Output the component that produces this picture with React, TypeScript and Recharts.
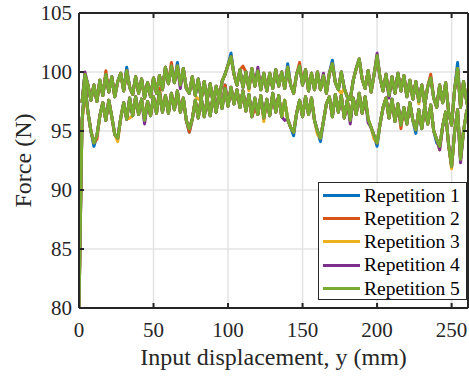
import { LineChart, Line, XAxis, YAxis, CartesianGrid } from 'recharts';

const seriesNames = ['Repetition 1', 'Repetition 2', 'Repetition 3', 'Repetition 4', 'Repetition 5'];
const seriesColors = ['#0072BD', '#D95319', '#EDB120', '#7E2F8E', '#77AC30'];

const xTicks = [0, 50, 100, 150, 200, 250];
const yTicks = [80, 85, 90, 95, 100, 105];

// displacement samples (mm): every 2 mm, plus the end of stroke
const outX = [...Array.from({ length: 131 }, (_, i) => i * 2), 261];
const backX = [...Array.from({ length: 130 }, (_, i) => 2 + i * 2), 261];

// outward stroke, force (N) at outX
const outForce = [
  80, 95.8, 98.9, 96.6, 95.0, 94.0, 94.6, 96.3, 97.4, 95.9,
  97.6, 96.2, 94.7, 94.4, 96.1, 97.4, 96.0, 97.8, 96.3, 97.9,
  96.4, 97.7, 95.9, 97.5, 96.3, 97.9, 96.5, 98.3, 96.6, 98.0,
  96.5, 98.2, 96.8, 98.4, 96.6, 97.8, 95.9, 95.2, 96.0, 97.6,
  96.1, 97.8, 96.2, 97.7, 96.3, 98.0, 96.6, 98.3, 96.9, 98.6,
  97.1, 98.7, 97.3, 98.5, 97.0, 98.4, 96.7, 98.1, 96.2, 97.8,
  96.4, 98.0, 96.1, 97.7, 96.3, 98.2, 96.6, 98.0, 96.2, 97.6,
  96.0, 95.3, 94.9, 96.5, 97.6, 96.2, 97.9, 96.4, 97.8, 95.9,
  95.0, 94.4, 95.8, 97.3, 97.9, 96.2, 98.1, 96.6, 98.0, 96.1,
  97.6, 95.9, 97.8, 96.4, 98.2, 96.5, 97.9, 96.0, 95.3, 94.6,
  94.0, 95.6, 97.0, 97.8, 96.1, 97.7, 95.8, 97.3, 95.5, 97.0,
  95.6, 97.4, 95.9, 95.1, 96.8, 95.2, 97.1, 95.6, 97.2, 95.0,
  94.3, 93.7, 95.4, 96.6, 93.8, 92.0, 94.9, 96.8, 92.6, 95.0,
  96.6, 97.0,
];

// return stroke, force (N) at backX (listed by increasing displacement)
const backForce = [
  97.4, 99.8, 98.9, 97.6, 98.9, 97.5, 99.3, 98.0, 99.8, 98.3,
  99.6, 97.9, 99.2, 99.9, 98.4, 100.1, 98.7, 98.1, 99.6, 98.2,
  99.4, 97.8, 99.1, 97.9, 99.5, 98.2, 99.7, 98.5, 100.4, 99.0,
  100.5, 99.1, 100.5, 98.9, 100.3, 98.6, 98.2, 99.6, 98.0, 99.4,
  97.7, 99.2, 97.6, 99.0, 97.4, 98.8, 97.7, 99.2, 99.8, 100.6,
  101.3, 99.8, 98.9, 100.2, 98.7, 100.0, 98.6, 100.3, 98.8, 100.1,
  98.5, 99.9, 98.4, 99.9, 98.6, 100.2, 98.8, 100.0, 98.6, 100.4,
  98.9, 98.2, 99.8, 100.5, 98.9, 100.2, 98.4, 99.9, 98.5, 100.0,
  98.5, 99.7, 98.2, 99.9, 100.7, 99.1, 98.5, 100.0, 98.6, 97.9,
  97.7, 99.3, 100.3, 101.1, 99.4, 98.6, 100.1, 98.3, 99.8, 101.4,
  99.5, 98.4, 99.8, 98.0, 99.6, 98.2, 99.9, 98.4, 99.7, 97.9,
  99.3, 97.7, 99.2, 97.5, 98.9, 97.2, 98.8, 99.5, 97.8, 97.0,
  98.9, 97.4, 99.1, 96.6, 95.5, 98.5, 100.3, 97.0, 99.2, 97.6,
  97.0,
];

// where repetitions 1-4 differ from repetition 5: [displacement, force]
const rep1Out = [[10, 93.7], [74, 94.9], [144, 94.6], [162, 94.1], [200, 93.7], [226, 94.8], [240, 94.0], [98, 98.9]];
const rep1Back = [[32, 100.4], [66, 100.8], [102, 101.6], [170, 101.0], [200, 101.2], [254, 100.8], [140, 100.7]];
const rep2Out = [[12, 94.3], [54, 98.6], [74, 94.9], [98, 98.9], [216, 95.2], [118, 96.9]];
const rep2Back = [[18, 100.1], [62, 100.8], [148, 100.8], [188, 101.0], [200, 101.2], [236, 99.8], [110, 100.5]];
const rep3Out = [[4, 97.9], [26, 94.1], [124, 95.8], [160, 94.7], [198, 94.3], [242, 93.4], [250, 91.8], [34, 96.1]];
const rep3Back = [[4, 99.5], [114, 98.4], [228, 97.3], [80, 97.7], [176, 98.2]];
const rep4Out = [[44, 95.6], [182, 95.6], [194, 95.7], [242, 93.4], [256, 92.3], [138, 95.9]];
const rep4Back = [[4, 100.0], [68, 98.6], [120, 100.4], [200, 101.6], [208, 97.8], [164, 99.9]];
const rep5Out: number[][] = [];
const rep5Back: number[][] = [];

const outOverrides = [rep1Out, rep2Out, rep3Out, rep4Out, rep5Out];
const backOverrides = [rep1Back, rep2Back, rep3Back, rep4Back, rep5Back];

function buildRun(outOv: number[][], backOv: number[][]) {
  const om = new Map(outOv.map(([x, f]) => [x, f]));
  const bm = new Map(backOv.map(([x, f]) => [x, f]));
  const out = outX.map((x, i) => ({ x, y: om.get(x) ?? outForce[i] }));
  const back = backX.map((x, i) => ({ x, y: bm.get(x) ?? backForce[i] })).reverse();
  return [...out, ...back];
}

const runs = seriesNames.map((_, i) => buildRun(outOverrides[i], backOverrides[i]));

const FONT = "'Liberation Serif', 'Times New Roman', serif";
const INK = '#262626';
const tickStyle = { fill: INK, fontSize: 21, fontFamily: 'Liberation Serif' };

export default function App() {
  return (
    <div style={{ position: 'absolute', left: 0, top: 0, width: 469, height: 376, background: '#fff', fontFamily: FONT }}>
      <style>{`svg text, svg tspan { font-family: ${FONT} !important; }`}</style>
      <LineChart width={469} height={376} margin={{ top: 12, right: 0, bottom: 0, left: 0 }}>
        <CartesianGrid stroke="#e3e3e3" strokeWidth={1.5} />
        <XAxis
          type="number"
          dataKey="x"
          domain={[0, 261]}
          allowDataOverflow
          ticks={xTicks}
          height={68}
          tickSize={-5}
          tickMargin={19}
          stroke={INK}
          strokeWidth={2}
          tick={tickStyle}
          label={{ value: 'Input displacement, y (mm)', position: 'insideBottom', offset: 11, fill: INK, fontSize: 24 }}
        />
        <XAxis
          xAxisId="top"
          orientation="top"
          type="number"
          dataKey="x"
          domain={[0, 261]}
          allowDataOverflow
          ticks={xTicks}
          height={1}
          tickSize={-5}
          stroke={INK}
          strokeWidth={2}
          tickFormatter={() => ''}
        />
        <YAxis
          type="number"
          dataKey="y"
          domain={[80, 105]}
          allowDataOverflow
          ticks={yTicks}
          width={79}
          tickSize={-5}
          tickMargin={12}
          stroke={INK}
          strokeWidth={2}
          tick={tickStyle}
          label={{ value: 'Force (N)', angle: -90, position: 'center', dx: -17, fill: INK, fontSize: 24 }}
        />
        <YAxis
          yAxisId="right"
          orientation="right"
          type="number"
          domain={[80, 105]}
          allowDataOverflow
          ticks={yTicks}
          width={1}
          tickSize={-5}
          stroke={INK}
          strokeWidth={2}
          tickFormatter={() => ''}
        />
        {runs.map((run, i) => (
          <Line
            key={seriesNames[i]}
            data={run}
            dataKey="y"
            name={seriesNames[i]}
            type="linear"
            stroke={seriesColors[i]}
            strokeWidth={3}
            strokeLinejoin="round"
            dot={false}
            activeDot={false}
            isAnimationActive={false}
          />
        ))}
      </LineChart>
      <div
        style={{
          position: 'absolute',
          left: 318,
          top: 182,
          width: 149,
          height: 118,
          boxSizing: 'border-box',
          border: `1.5px solid ${INK}`,
          background: '#fff',
          paddingTop: 0.5,
          fontSize: 19.5,
          color: '#000',
        }}
      >
        {seriesNames.map((name, i) => (
          <div key={name} style={{ display: 'flex', alignItems: 'center', height: 23.3, lineHeight: '23.3px' }}>
            <span style={{ display: 'inline-block', width: 37, height: 3, background: seriesColors[i], marginLeft: 4, marginRight: 4 }} />
            <span>{name}</span>
          </div>
        ))}
      </div>
    </div>
  );
}
